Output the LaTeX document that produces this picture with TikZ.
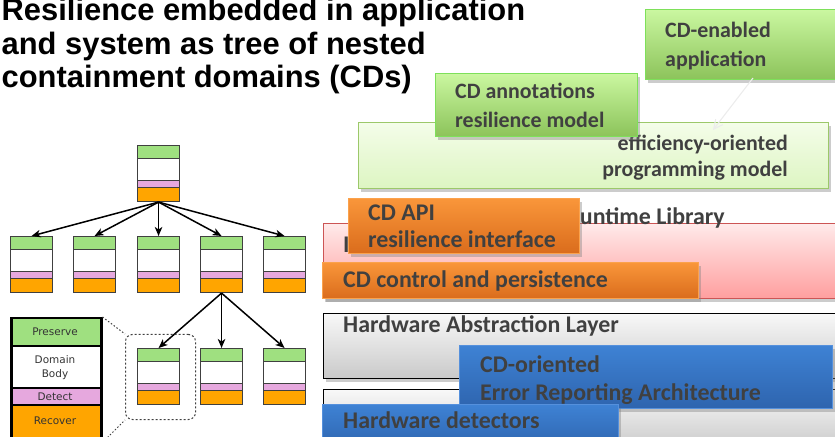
\documentclass[tikz,border=0pt]{standalone}
\usepackage{fontspec}
\newfontfamily\titlefont{Liberation Sans}
\newfontfamily\boxfont{Carlito}
\newfontfamily\legfont{DejaVu Sans}
\usetikzlibrary{arrows.meta,shadows}
\definecolor{cdgreen}{HTML}{9FE080}
\definecolor{cdpink}{HTML}{E6A8DE}
\definecolor{cdorange}{HTML}{FFA500}
\definecolor{txtgray}{HTML}{404040}
\definecolor{gtop}{HTML}{CAF7A0}
\definecolor{gbot}{HTML}{8CC35A}
\definecolor{gbord}{HTML}{7EE05A}
\definecolor{ltop}{HTML}{F4FDE9}
\definecolor{lbot}{HTML}{DDF5C2}
\definecolor{lbord}{HTML}{9CC86A}
\definecolor{ptop}{HTML}{FFEAEA}
\definecolor{pbot}{HTML}{FF9E9E}
\definecolor{pbord}{HTML}{CC5555}
\definecolor{otop}{HTML}{F9963A}
\definecolor{obot}{HTML}{DA6C1C}
\definecolor{obord}{HTML}{FBA24C}
\definecolor{btop}{HTML}{3E82D4}
\definecolor{bbot}{HTML}{2E64AE}
\definecolor{bbord}{HTML}{5590DC}
\definecolor{wtop}{HTML}{F8F8F8}
\definecolor{wbot}{HTML}{C9C9C9}
\newcommand{\cdbox}[3]{%
  \fill[cdgreen] (#2,#3) rectangle ++(42,13);
  \fill[cdpink] (#2,#3+35) rectangle ++(42,7);
  \fill[cdorange] (#2,#3+42) rectangle ++(42,14);
  \draw[sepline] (#2,#3+13) -- ++(42,0) (#2,#3+35) -- ++(42,0) (#2,#3+42) -- ++(42,0);
  \node[cdframe] (#1) at (#2,#3) {};
}
\tikzset{
  sepline/.style={draw=black!75, line width=0.9bp},
  cdframe/.style={draw=black!75, line width=1.1bp, minimum width=42bp, minimum height=56bp, inner sep=0pt, anchor=north west},
  tarrow/.style={line width=1.5bp, -{Stealth[length=9bp, width=7.5bp, inset=2.5bp]}},
  layer/.style={anchor=north west, inner sep=0pt, drop shadow={shadow xshift=2bp, shadow yshift=-3bp, opacity=0.4}},
  greenbox/.style={layer, top color=gtop, bottom color=gbot, draw=gbord, line width=1.2bp},
  lightbox/.style={layer, top color=ltop, bottom color=lbot, draw=lbord, line width=1.2bp},
  pinkbox/.style={layer, top color=ptop, bottom color=pbot, draw=pbord, line width=1.2bp},
  orangebox/.style={layer, top color=otop, bottom color=obot, draw=obord, line width=1.2bp},
  bluebox/.style={layer, top color=btop, bottom color=bbot, draw=bbord, line width=1.2bp},
  graybox/.style={layer, top color=wtop, bottom color=wbot, draw=black, line width=1.2bp},
  boxtxt/.style={anchor=base west, inner sep=0pt, text=txtgray, align=left},
  gfont/.style={font=\boxfont\bfseries\fontsize{22}{30}\selectfont},
  ofont/.style={font=\boxfont\bfseries\fontsize{24}{28}\selectfont},
  legtxt/.style={inner sep=0pt, text=black!80, align=center, font=\legfont\fontsize{10.5}{13.5}\selectfont},
  legsep/.style={draw=black, line width=2bp},
}
\begin{document}
\begin{tikzpicture}[x=1bp,y=-1bp]
\useasboundingbox (0,0) rectangle (835,437);
% title (base = last line)
\node[anchor=base west, inner sep=0pt, align=left, font=\titlefont\bfseries\fontsize{31}{34}\selectfont] (title) at (1.5,88)
  {Resilience embedded in application\\and system as tree of nested\\containment domains (CDs)};
% tree
\cdbox{top}{137}{145}
\cdbox{c1}{10}{236}
\cdbox{c2}{73}{236}
\cdbox{c3}{137}{236}
\cdbox{c4}{200}{236}
\cdbox{c5}{263}{236}
\cdbox{g1}{137}{348}
\cdbox{g2}{200}{348}
\cdbox{g3}{263}{348}
\foreach \c in {c1,c2,c3,c4,c5} \draw[tarrow] (top.south) -- (\c.north);
\foreach \g in {g1,g2,g3} \draw[tarrow] (c4.south) -- (\g.north);
% zoom frame
\node[draw=black!75, line width=1bp, dash pattern=on 2bp off 2bp, rounded corners=7bp, minimum width=70bp, minimum height=85bp, inner sep=0pt, anchor=north west] (zoomframe) at (125,334) {};
% legend
\fill[cdgreen] (10,317) rectangle (100,346);
\fill[cdpink] (10,388) rectangle (100,405);
\fill[cdorange] (10,405) rectangle (100,440);
\draw[legsep] (10,346) -- (100,346) (10,388) -- (100,388) (10,405) -- (100,405);
\node[draw=black, line width=2.5bp, minimum width=90bp, minimum height=123bp, inner sep=0pt, anchor=north west] (legend) at (10,317) {};
\node[legtxt] (lp) at (55,332) {Preserve};
\node[legtxt] (lb) at (55,367.5) {Domain\\Body};
\node[legtxt] (ld) at (55,397) {Detect};
\node[legtxt] (lr) at (55,421) {Recover};
\draw[draw=black!75, line width=1bp, dash pattern=on 1.5bp off 2bp] (legend.north east) -- (zoomframe.north west);
\draw[draw=black!75, line width=1bp, dash pattern=on 1.5bp off 2bp] (legend.south east) -- (zoomframe.south west);
% right stack
\node[lightbox, minimum width=470bp, minimum height=66bp] (eff) at (358,122) {};
\node[boxtxt, anchor=base east, align=right, font=\boxfont\bfseries\fontsize{22}{27}\selectfont] (efft) at (788,177) {efficiency-oriented\\programming model};
\node[greenbox, minimum width=202bp, minimum height=63bp] (ann) at (435,73) {};
\node[boxtxt, gfont] (annt) at (455,128) {CD annotations\\resilience model};
\node[greenbox, minimum width=195bp, minimum height=70bp] (app) at (645,9) {};
\node[boxtxt, gfont] (appt) at (665,67) {CD-enabled\\application};
\coordinate (arrS) at (753,78);
\coordinate (arrE) at (713,130);
\draw[white!85!gray, line width=1.1bp, -{Straight Barb[length=9bp, width=9bp]}] (arrS) -- (arrE);
% runtime
\node[pinkbox, minimum width=515bp, minimum height=75bp] (rt) at (323,223) {};
\node[boxtxt, ofont, anchor=base east] (rtt) at (725,225) {Runtime Library};
\node[boxtxt, ofont] (rti) at (343,253) {Interface};
\node[orangebox, minimum width=231bp, minimum height=55bp] (api) at (348,198) {};
\node[boxtxt, ofont] (apit) at (368,248) {CD API\\resilience interface};
\node[orangebox, minimum width=376bp, minimum height=36bp] (ctl) at (322,262) {};
\node[boxtxt, ofont] (ctlt) at (343,288) {CD control and persistence};
% hardware
\node[graybox, minimum width=515bp, minimum height=65bp] (hal) at (323,313) {};
\node[boxtxt, ofont] (halt) at (343,333) {Hardware Abstraction Layer};
\node[graybox, minimum width=515bp, minimum height=60bp] (hw) at (323,389) {};
\node[bluebox, minimum width=373bp, minimum height=63bp] (err) at (459,345) {};
\node[boxtxt, ofont] (errt) at (480,400) {CD-oriented\\Error Reporting Architecture};
\node[bluebox, minimum width=296bp, minimum height=45bp] (det) at (322,404) {};
\node[boxtxt, ofont] (dett) at (343,428) {Hardware detectors};
\end{tikzpicture}
\end{document}
